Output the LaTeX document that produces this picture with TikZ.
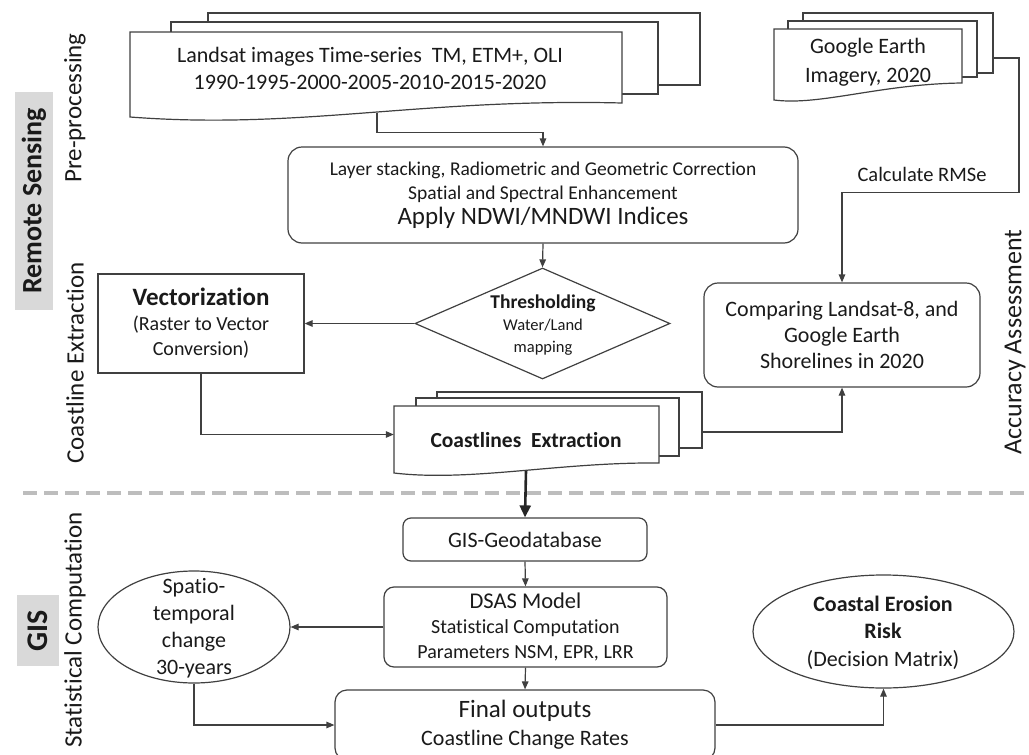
\documentclass[tikz,border=0pt]{standalone}
\usepackage{fontspec}
\setmainfont{Carlito}[Ligatures=NoCommon]
\usetikzlibrary{shapes.geometric,arrows.meta,calc}
\definecolor{linec}{HTML}{404040}
\definecolor{txt}{HTML}{1A1A1A}
\definecolor{grayfill}{HTML}{D9D9D9}
\definecolor{dashc}{HTML}{BDBDBD}
\newcommand{\fsz}[2]{\fontsize{#1}{#2}\selectfont}
\tikzset{
  ln/.style={draw=linec, line width=1.2pt},
  arr/.style={draw=linec, line width=1.2pt, -{Triangle[length=8pt,width=6.5pt]}},
  thickarr/.style={draw=black!85, line width=2.6pt, -{Triangle[length=12pt,width=11pt]}},
  page/.style={ln, fill=white},
  rbox/.style={ln, rounded corners=14pt, align=center, inner sep=0pt},
  sbox/.style={ln, align=center, inner sep=0pt},
  ttext/.style={align=center, inner sep=0pt},
  sidelab/.style={rotate=90, inner sep=0pt, font=\fsz{25}{30}},
  grouplab/.style={rotate=90, fill=grayfill, inner sep=0pt, font=\bfseries\fsz{28}{32}},
  every node/.style={text=txt}
}
\begin{document}
\begin{tikzpicture}[x=1pt,y=-1pt]
\useasboundingbox (0,0) rectangle (1029,755);

% side labels
\node[grouplab, minimum width=218pt, minimum height=38pt] (rs) at (34,201) {Remote Sensing};
\node[grouplab, minimum width=71pt, minimum height=42pt, font=\bfseries\fsz{30}{34}] (gisl) at (38,630.5) {GIS};
\node[sidelab] (prel) at (75,108) {Pre-processing};
\node[sidelab] (cel) at (75,363) {Coastline Extraction};
\node[sidelab, anchor=east] (scl) at (75,512) {Statistical Computation};
\node[sidelab, font=\fsz{26}{30}] (accl) at (1015,342) {Accuracy Assessment};

% separator
\coordinate (sepL) at (23,493);
\coordinate (sepR) at (1029,493);
\draw[dashc, line width=4pt, dash pattern=on 14pt off 7pt] (sepL) -- (sepR);

% Landsat document stack
\draw[page] (208,13) rectangle (700,85);
\draw[page] (171,22) rectangle (658,94);
\draw[page] (130,32) -- (622,32) -- (622,103) .. controls (420,98) and (300,130) .. (130,117) -- cycle;
\node[ttext, font=\fsz{22}{27}] (ls) at (370,68) {Landsat images Time-series\ \ TM, ETM+, OLI\\1990-1995-2000-2005-2010-2015-2020};
\coordinate (lsbot) at (377,113);

% Google Earth document stack
\draw[page] (803,13) rectangle (993,73);
\draw[page] (788,21) rectangle (977,77);
\draw[page] (774,29) -- (962,29) -- (962,83) .. controls (880,84) and (820,106) .. (774,100) -- cycle;
\node[ttext, font=\fsz{22}{29}] (ge) at (868,62) {Google Earth\\Imagery, 2020};
\coordinate (gebk) at (993,58);

% Coastlines extraction document stack
\draw[page] (437,392) rectangle (702,448);
\draw[page] (416,398) rectangle (679,456);
\draw[page] (394,406) -- (659,406) -- (659,463) .. controls (560,462) and (470,482) .. (394,473) -- cycle;
\node[minimum width=265pt, minimum height=57pt, inner sep=0pt] (ce) at (526.5,434.5) {};
\node[ttext, font=\bfseries\fsz{21.5}{26}] (cet) at (526,440) {Coastlines\ \ Extraction};
\coordinate (cebk) at (702,432);
\coordinate (cebot) at (526,471);

% process boxes
\node[rbox, minimum width=510pt, minimum height=96pt, font=\fsz{19.5}{24}] (pre) at (543,195)
  {Layer stacking, Radiometric and Geometric Correction\\Spatial and Spectral Enhancement\\[1pt]{\fsz{25}{26}Apply NDWI/MNDWI Indices}};

\node[ln, diamond, minimum width=255pt, minimum height=111pt, inner sep=0pt] (thr) at (542.5,323.5) {};
\node[ttext, font=\fsz{16.5}{22}] (thrt) at (543,325) {{\bfseries\fsz{19.5}{23}Thresholding}\\Water/Land\\mapping};

\node[sbox, minimum width=206pt, minimum height=99pt, font=\fsz{20}{25}] (vec) at (201,323.5)
  {{\bfseries\fsz{25}{27}Vectorization}\\(Raster to Vector\\Conversion)};

\node[rbox, minimum width=276pt, minimum height=104pt, font=\fsz{22}{26}] (cmp) at (842,335)
  {Comparing Landsat-8, and\\Google Earth\\Shorelines in 2020};

\node[ttext, font=\fsz{20.5}{24}] (rmse) at (922,174) {Calculate RMSe};

\node[rbox, rounded corners=8pt, minimum width=244pt, minimum height=43pt, font=\fsz{22}{26}] (gis) at (525,539.5) {GIS-Geodatabase};

\node[rbox, rounded corners=10pt, minimum width=283pt, minimum height=80pt, font=\fsz{20}{25}] (dsas) at (525.5,627)
  {{\fsz{22.5}{25}DSAS Model}\\Statistical Computation\\Parameters NSM, EPR, LRR};

\node[rbox, rounded corners=12pt, minimum width=380pt, minimum height=70pt, font=\fsz{22}{28}] (fin) at (525,725)
  {{\fsz{25}{28}Final outputs}\\Coastline Change\ Rates};

\node[ln, ellipse, minimum width=192pt, minimum height=112pt, inner sep=0pt] (sp) at (194,627) {};
\node[ttext, font=\fsz{22}{27}] (spt) at (194,628) {Spatio-\\temporal\\change\\30-years};

\node[ln, ellipse, minimum width=261pt, minimum height=113pt, inner sep=0pt] (cer) at (883.5,631.5) {};
\node[ttext, font=\fsz{22}{27.5}] (cert) at (883,632.5) {{\bfseries Coastal Erosion}\\{\bfseries Risk}\\(Decision Matrix)};

% connectors
\draw[arr] (lsbot) |- ($(pre.north)+(0,-14)$) -- (pre.north);
\draw[arr] (pre.south) -- (thr.north);
\draw[arr] (thr.west) -- (vec.east);
\draw[arr] (vec.south) |- (ce.west);
\draw[arr] (cebk) -| (cmp.south);
\draw[arr] (gebk) -- ++(26,0) |- ($(cmp.north)+(0,-90)$) -- (cmp.north);
\draw[thickarr] (cebot) -- (gis.north);
\draw[arr] (gis.south) -- (dsas.north);
\draw[arr] (dsas.west) -- (sp.east);
\draw[arr] (dsas.south) -- (fin.north);
\draw[arr] (sp.south) |- (fin.west);
\draw[arr] (fin.east) -| (cer.south);
\end{tikzpicture}
\end{document}
